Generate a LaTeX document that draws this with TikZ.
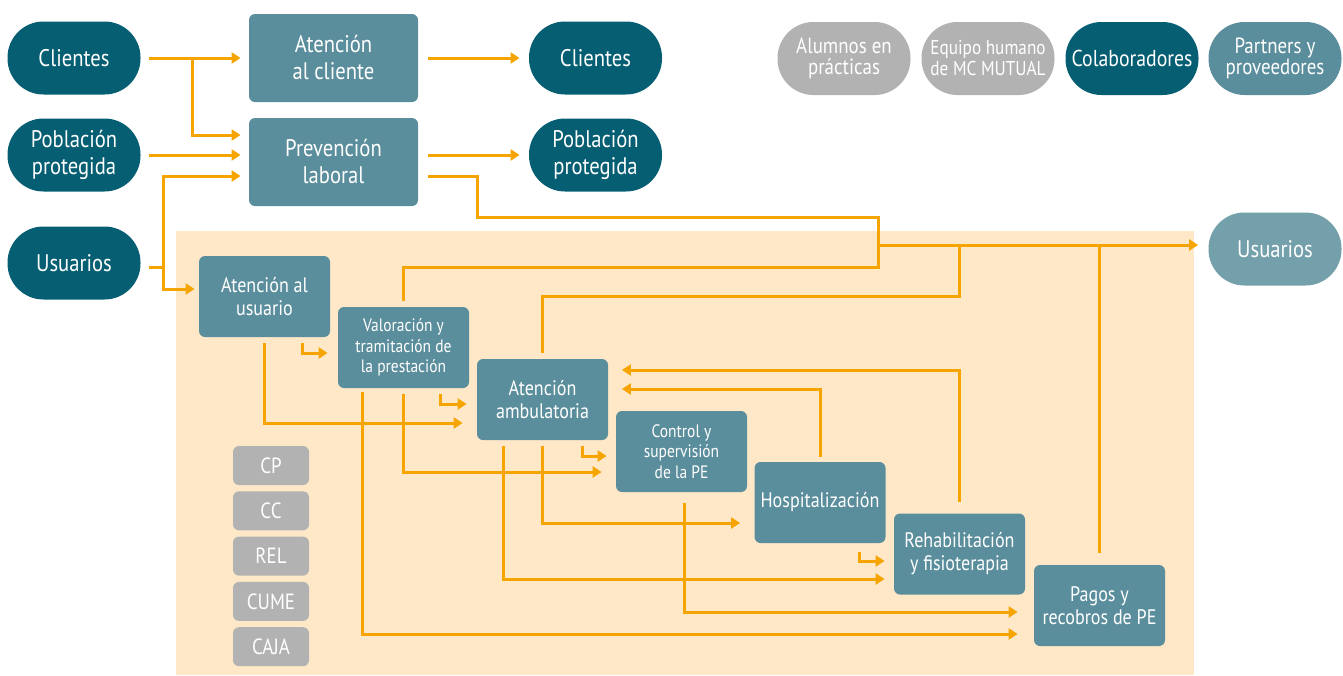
\documentclass[tikz,border=0pt]{standalone}
\usepackage{fontspec}
\setmainfont{PT Sans}[FakeStretch=0.86]
\usepackage{xcolor}
\usetikzlibrary{arrows.meta,calc}

\definecolor{mcdark}{HTML}{065E73}
\definecolor{mcteal}{HTML}{5B8E9C}
\definecolor{mclight}{HTML}{74A0AB}
\definecolor{mcgray}{HTML}{B2B2B2}
\definecolor{mcband}{HTML}{FEE8C8}
\definecolor{mcflow}{HTML}{F5A400}

\begin{document}
\begin{tikzpicture}[x=0.5pt,y=-0.5pt,
    pillnode/.style={rectangle, rounded corners=18pt, minimum width=66.5pt, minimum height=36.5pt,
        inner sep=0pt, text=white, align=center, font=\fontsize{12}{13.5}\selectfont},
    procbox/.style={rectangle, rounded corners=3pt, fill=mcteal, minimum width=65.5pt, minimum height=40.5pt,
        inner sep=0pt, text=white, align=center, font=\fontsize{10.5}{11.5}\selectfont},
    smalltext/.style={font=\fontsize{9}{10.3}\selectfont},
    tagbox/.style={rectangle, rounded corners=3pt, fill=mcgray, minimum width=38pt, minimum height=19.5pt,
        inner sep=0pt, text=white, font=\fontsize{11}{12}\selectfont},
    flow/.style={draw=mcflow, line width=1.5pt, -{Triangle[length=4.5pt,width=5.5pt]}},
    flowline/.style={draw=mcflow, line width=1.5pt}]
\useasboundingbox (0,0) rectangle (1343,675);

% zona de procesos de usuarios
\fill [mcband] (176,231) rectangle (1194,675);

% grupos de interes
\node [pillnode, fill=mcdark] (cl1) at (74,58) {Clientes};
\node [pillnode, fill=mcdark] (pp1) at (74,155) {Población\\protegida};
\node [pillnode, fill=mcdark] (us1) at (74,263) {Usuarios};
\node [pillnode, fill=mcdark] (cl2) at (595.5,58) {Clientes};
\node [pillnode, fill=mcdark] (pp2) at (595.5,155) {Población\\protegida};
\node [pillnode, fill=mclight] (us2) at (1275,249) {Usuarios};

\node [pillnode, fill=mcgray, font=\fontsize{11}{10.5}\selectfont] (alu) at (844,58.5) {Alumnos en\\prácticas};
\node [pillnode, fill=mcgray, font=\fontsize{10}{10.5}\selectfont] (equ) at (988,58.5) {Equipo humano\\de MC MUTUAL};
\node [pillnode, fill=mcdark, font=\fontsize{11.5}{12}\selectfont] (col) at (1132,58.5) {Colaboradores};
\node [pillnode, fill=mcteal, font=\fontsize{11}{10.5}\selectfont] (par) at (1275,58.5) {Partners y\\proveedores};

% procesos
\node [procbox, minimum width=84.5pt, minimum height=44pt, font=\fontsize{12}{13.5}\selectfont] (atc) at (333.5,58) {Atención\\al cliente};
\node [procbox, minimum width=84.5pt, minimum height=44pt, font=\fontsize{12}{13.5}\selectfont] (prev) at (333.5,162) {Prevención\\laboral};

\node [procbox] (au) at (264.5,296.5) {Atención al\\usuario};
\node [procbox, smalltext] (val) at (403.5,347.5) {Valoración y\\tramitación de\\la prestación};
\node [procbox] (amb) at (542.5,399.5) {Atención\\ambulatoria};
\node [procbox, smalltext] (ctl) at (681.5,451.5) {Control y\\supervisión\\de la PE};
\node [procbox] (hos) at (820,502.5) {Hospitalización};
\node [procbox] (reh) at (959.5,554) {Rehabilitación\\y fisioterapia};
\node [procbox] (pag) at (1099.5,605.5) {Pagos y\\recobros de PE};

\foreach \t [count=\i] in {CP,CC,REL,CUME,CAJA}
    \node [tagbox] (tag\i) at (271,{465.5+45.3*(\i-1)}) {\t};

% entradas
\draw [flow, shorten <=4.25pt, shorten >=4pt] (cl1.east) -- (atc.west);
\draw [flow, shorten >=4pt] ([xshift=26pt]cl1.east) |- ([yshift=13.5pt]prev.west);
\draw [flow, shorten <=4.25pt, shorten >=4pt] (pp1.east) -- (pp1.east -| prev.west);
\coordinate (usj) at ([xshift=11.5pt,yshift=-2pt]us1.east);
\draw [flow, shorten <=4.25pt, shorten >=4pt] ([yshift=-2pt]us1.east) -- (usj) |- ([yshift=-7pt]prev.west);
\draw [flow, shorten >=2pt] (usj) |- ([yshift=3.75pt]au.west);

% salidas
\draw [flow, shorten <=5pt, shorten >=4.5pt] (atc.east) -- (cl2.west);
\draw [flow, shorten <=5pt, shorten >=4.5pt] (prev.east |- pp2.west) -- (pp2.west);

\coordinate (mrg) at (878,245);
\draw [flowline, shorten <=5pt] ([yshift=-7pt]prev.east) -- ++(59,0) |- ($(mrg)+(0,-28)$) -- (mrg);
\draw [flowline, shorten <=2.75pt] (val.north) |- ($(mrg)+(0,22)$) -- (mrg);
\draw [flowline, shorten <=3pt] (amb.north) |- ($(reh.north |- mrg)+(0,51)$) -- (reh.north |- mrg);
\draw [flowline, shorten <=6pt] (pag.north) -- (pag.north |- mrg);
\draw [flow, shorten >=5pt] (mrg) -- (mrg -| us2.west);

% pasos cortos
\draw [flow, shorten <=3pt, shorten >=5pt] ([xshift=19pt]au.south) |- ([yshift=-2.75pt]val.west);
\draw [flow, shorten <=3pt, shorten >=5pt] ([xshift=18.25pt]val.south) |- ([yshift=-2.25pt]amb.west);
\draw [flow, shorten <=3pt, shorten >=4.5pt] ([xshift=19.75pt]amb.south) |- ([yshift=-2.25pt]ctl.west);
\draw [flow, shorten <=4.5pt, shorten >=4.5pt] ([xshift=19.75pt]hos.south) |- ([yshift=-3.5pt]reh.west);

% recorridos largos
\draw [flow, shorten <=3pt, shorten >=7pt] (au.south) |- ([yshift=-11.75pt]amb.west);
\draw [flow, shorten <=2pt, shorten >=8pt] ([xshift=-20.75pt]val.south) |- ([yshift=-14.25pt]pag.west);
\draw [flow, shorten <=3pt, shorten >=7pt] (val.south) |- ([yshift=-10.25pt]ctl.west);
\draw [flow, shorten <=3pt, shorten >=4.5pt] ([xshift=-19.75pt]amb.south) |- ([yshift=-12.5pt]reh.west);
\draw [flow, shorten <=3pt, shorten >=7pt] (amb.south) |- ([yshift=-10.25pt]hos.west);
\draw [flow, shorten <=5.5pt, shorten >=8pt] ([xshift=1.25pt]ctl.south) |- ([yshift=-3.25pt]pag.west);
\draw [flow, shorten <=2.5pt, shorten >=6.75pt] (hos.north) |- ([yshift=5.25pt]amb.east);
\draw [flow, shorten <=5.5pt, shorten >=6.75pt] (reh.north) |- ([yshift=14.75pt]amb.east);

\end{tikzpicture}
\end{document}
